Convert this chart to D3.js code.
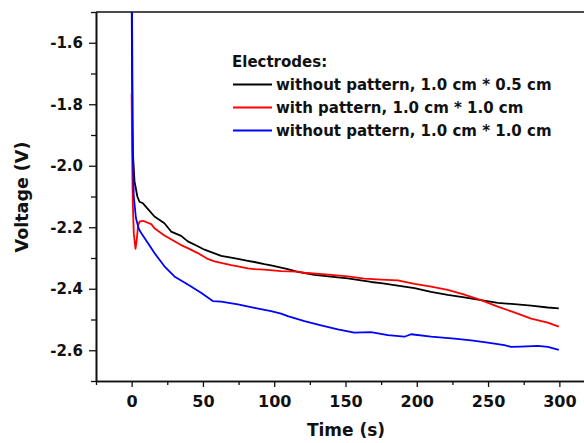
<!DOCTYPE html>
<html>
<head>
<meta charset="utf-8">
<script src="https://cdn.jsdelivr.net/npm/d3@7"></script>
<style>
  html, body { margin: 0; padding: 0; background: #fff; overflow: hidden; }
  svg { display: block; font-family: "DejaVu Sans", sans-serif; font-weight: bold; }
</style>
</head>
<body>
<svg id="chart" width="584" height="443"></svg>
<script>
// [time (s), voltage (V)]
const blackPts = [[0, -1.45], [0.5, -1.85], [0.9, -1.96], [2, -2.05], [4, -2.10], [5.5, -2.117], [7.9, -2.122],
  [9, -2.128], [16, -2.165], [23, -2.187], [27.7, -2.214], [34.7, -2.228], [39.4, -2.246], [46.4, -2.262],
  [51.1, -2.273], [58.1, -2.285], [62.8, -2.293], [69.8, -2.299], [74.5, -2.303], [81.5, -2.309], [86.1, -2.313],
  [93.1, -2.320], [97.8, -2.324], [104.8, -2.331], [109.5, -2.336], [116.5, -2.345], [128.2, -2.355],
  [144.6, -2.363], [151.6, -2.366], [167.9, -2.378], [175, -2.382], [191.3, -2.393], [198.4, -2.398],
  [210, -2.410], [221.7, -2.420], [233.4, -2.428], [245.1, -2.437], [256.8, -2.446], [268.4, -2.450],
  [280.2, -2.455], [291.9, -2.461], [299.6, -2.464]];

const redPts = [[0, -1.765], [0.3, -1.95], [0.8, -2.12], [1.5, -2.22], [2.7, -2.27], [3.6, -2.24], [4.5, -2.195],
  [5.5, -2.182], [7.9, -2.179], [13.7, -2.190], [16, -2.203], [23, -2.227], [34.7, -2.258], [39.4, -2.268],
  [46.4, -2.284], [53.4, -2.303], [58.1, -2.311], [62.8, -2.316], [69.8, -2.323], [74.5, -2.327], [81.5, -2.334],
  [86.1, -2.336], [93.1, -2.338], [104.8, -2.343], [116.5, -2.344], [121.2, -2.348], [139.9, -2.355],
  [151.6, -2.360], [163.3, -2.367], [175, -2.370], [186.7, -2.373], [198.4, -2.384], [210, -2.393],
  [221.7, -2.404], [233.4, -2.419], [245.1, -2.437], [256.8, -2.458], [268.4, -2.477], [280.2, -2.497],
  [291.9, -2.510], [299.6, -2.523]];

const bluePts = [[0, -1.3], [0.4, -1.6], [0.8, -1.95], [1.5, -2.10], [3, -2.17], [5, -2.205], [6.7, -2.219],
  [11.4, -2.251], [16, -2.284], [23, -2.327], [30, -2.360], [39.4, -2.386], [48.7, -2.413], [56.9, -2.440],
  [62.8, -2.442], [74.5, -2.451], [86.1, -2.462], [97.8, -2.473], [104.8, -2.481], [109.5, -2.489],
  [121.2, -2.505], [132.9, -2.519], [144.6, -2.532], [156.2, -2.543], [167.9, -2.541], [179.7, -2.551],
  [191.3, -2.556], [196, -2.548], [210, -2.556], [226.4, -2.562], [238.1, -2.568], [249.8, -2.575],
  [261.4, -2.583], [266.1, -2.589], [273.1, -2.588], [284.9, -2.586], [291.9, -2.589], [299.6, -2.599]];

const seriesNames = ['without pattern, 1.0 cm * 0.5 cm', 'with pattern, 1.0 cm * 1.0 cm', 'without pattern, 1.0 cm * 1.0 cm'];
const seriesColors = ['#000000', '#ff0000', '#0000ff'];
const xTicks = [0, 50, 100, 150, 200, 250, 300];
const yTicks = [-2.6, -2.4, -2.2, -2.0, -1.8, -1.6];

const margin = {top: 12, left: 96};
const plotW = 499, plotH = 369;

let svg = d3.select('#chart');
let x = d3.scaleLinear().domain([-25, 325]).range([margin.left, margin.left + plotW]);
let y = d3.scaleLinear().domain([-2.7, -1.5]).range([margin.top + plotH, margin.top]);

svg.append('defs').append('clipPath').attr('id', 'clip')
  .append('rect')
    .attr('x', margin.left).attr('y', margin.top)
    .attr('width', plotW).attr('height', plotH);

// Minor ticks first so the major axes sit on top.
let xMinor = svg.append('g')
    .attr('transform', `translate(0,${margin.top + plotH})`)
    .call(d3.axisBottom(x).tickValues(d3.range(-25, 326, 50)).tickSize(4).tickSizeOuter(0).tickFormat(''));
let yMinor = svg.append('g')
    .attr('transform', `translate(${margin.left},0)`)
    .call(d3.axisLeft(y).tickValues(d3.range(-2.7, -1.45, 0.2)).tickSize(5).tickSizeOuter(0).tickFormat(''));

let xAxis = svg.append('g')
    .attr('transform', `translate(0,${margin.top + plotH})`)
    .call(d3.axisBottom(x).tickValues(xTicks).tickSize(6).tickPadding(9).tickSizeOuter(0));
let yAxis = svg.append('g')
    .attr('transform', `translate(${margin.left},0)`)
    .call(d3.axisLeft(y).tickValues(yTicks).tickSize(7).tickPadding(6).tickSizeOuter(0)
      .tickFormat(d3.format('.1f')));

[xMinor, yMinor, xAxis, yAxis].forEach(g => {
  g.selectAll('line').attr('stroke', '#111').attr('stroke-width', 1.3);
  g.select('.domain').attr('stroke', '#111').attr('stroke-width', 1.6);
});
xAxis.selectAll('text').style('font-size', '16px').style('font-family', '"DejaVu Sans"').style('font-weight', 'bold').attr('fill', '#111');
yAxis.selectAll('text').style('font-size', '15px').style('font-family', '"DejaVu Sans"').style('font-weight', 'bold').attr('fill', '#111')
  .text(d => d3.format('.1f')(d).replace('−', '-'));

// Top frame line
svg.append('line')
    .attr('x1', margin.left).attr('x2', margin.left + plotW)
    .attr('y1', margin.top).attr('y2', margin.top)
    .attr('stroke', '#111').attr('stroke-width', 1.6);

let line = d3.line().x(d => x(d[0])).y(d => y(d[1]));

let curves = svg.append('g').attr('clip-path', 'url(#clip)');
[blackPts, redPts, bluePts].forEach((pts, i) => {
  curves.append('path')
    .datum(pts)
    .attr('fill', 'none')
    .attr('stroke', seriesColors[i])
    .attr('stroke-width', 1.8)
    .attr('stroke-linejoin', 'round')
    .attr('d', line);
});

// Axis titles
svg.append('text')
    .attr('x', 346).attr('y', 436)
    .attr('text-anchor', 'middle')
    .style('font-size', '17px')
    .attr('fill', '#111')
    .text('Time (s)');
svg.append('text')
    .attr('transform', 'translate(28,197) rotate(-90)')
    .attr('text-anchor', 'middle')
    .style('font-size', '17.5px')
    .attr('fill', '#111')
    .text('Voltage (V)');

// Legend
let legend = svg.append('g');
legend.append('text')
    .attr('x', 232).attr('y', 66.5)
    .style('font-size', '15px')
    .attr('fill', '#111')
    .text('Electrodes:');
seriesNames.forEach((name, i) => {
  let base = 90 + i * 23;
  legend.append('line')
    .attr('x1', 233).attr('x2', 272)
    .attr('y1', base - 5.5).attr('y2', base - 5.5)
    .attr('stroke', seriesColors[i]).attr('stroke-width', 1.8);
  legend.append('text')
    .attr('x', 276).attr('y', base)
    .style('font-size', '15px')
    .attr('fill', '#111')
    .text(name);
});
</script>
</body>
</html>
